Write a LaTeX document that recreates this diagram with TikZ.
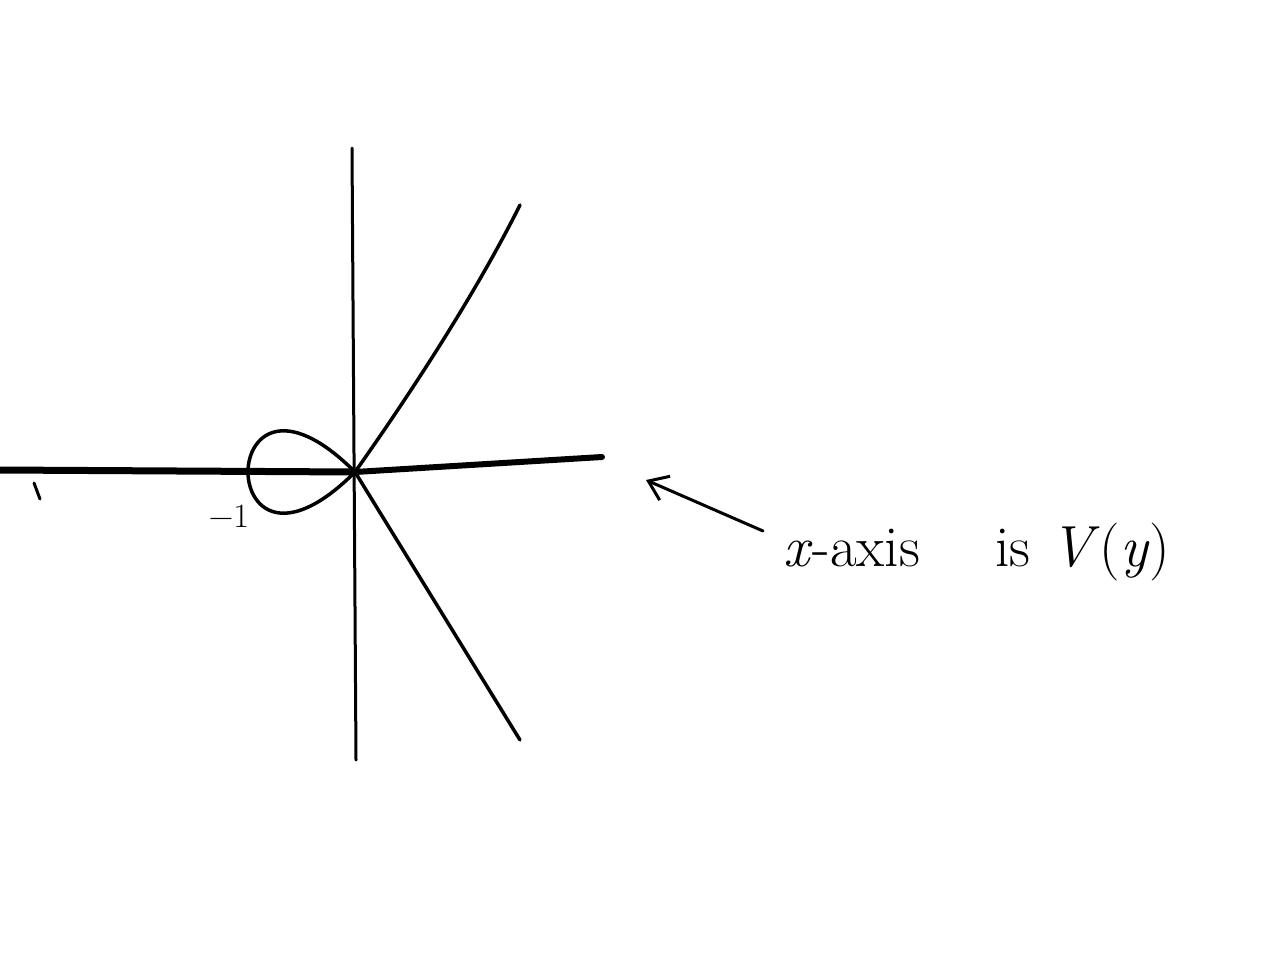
\documentclass[tikz,border=0pt]{standalone}
\usepackage{fontspec}
\usetikzlibrary{arrows.meta}
\begin{document}
\begin{tikzpicture}[x=1pt,y=-1pt,
  ink/.style={line width=3.5pt, line cap=round, line join=round, black},
  haxis/.style={line width=7pt, line cap=round, black},
  vaxis/.style={line width=3pt, line cap=round, black},
  lbl/.style={inner sep=0pt, text=black},
  big/.style={lbl, anchor=base west, font=\fontsize{58}{64}\selectfont}]
\useasboundingbox (0,0) rectangle (1280,961);
\coordinate (O) at (355,472);
\coordinate (hL) at (0,470);
\coordinate (hR) at (602,457);
\coordinate (vT) at (352,148);
\coordinate (vB) at (356,760);
\coordinate (uE) at (520,205);
\coordinate (lE) at (520,740);
% axes
\draw[haxis] (hL) -- (O);
\draw[line width=6pt, line cap=round] (O) -- (hR);
\draw[vaxis] (vT) -- (vB);
% stray mark
\draw[line width=3pt, line cap=round] (34,483) -- (40,499);
% loop of the nodal cubic y^2 = x^2 (x+1)
\draw[ink, smooth, samples=80, domain=-1:1, variable=\t]
  plot ({355+107*(\t*\t-1)}, {472-107*\t*(\t*\t-1)});
% branches
\draw[ink] (O) .. controls (420,380) and (480,285) .. (uE);
\draw[ink] (O) -- (lE);
% label -1
\node[lbl, font=\fontsize{34}{38}\selectfont] (m1) at (229,516) {−1};
% arrow
\coordinate (aS) at (763,531);
\coordinate (aE) at (646,480);
\draw[line width=3pt, line cap=round, -{Straight Barb[length=18pt, width=26pt, line width=3pt]}] (aS) -- (aE);
% text
\node[big] (t1) at (783,566) {\textit{x}-axis};
\node[big] (t2) at (995,566) {is};
\node[big] (t3) at (1050,566) {\textit{V}(\textit{y})};
\end{tikzpicture}
\end{document}
